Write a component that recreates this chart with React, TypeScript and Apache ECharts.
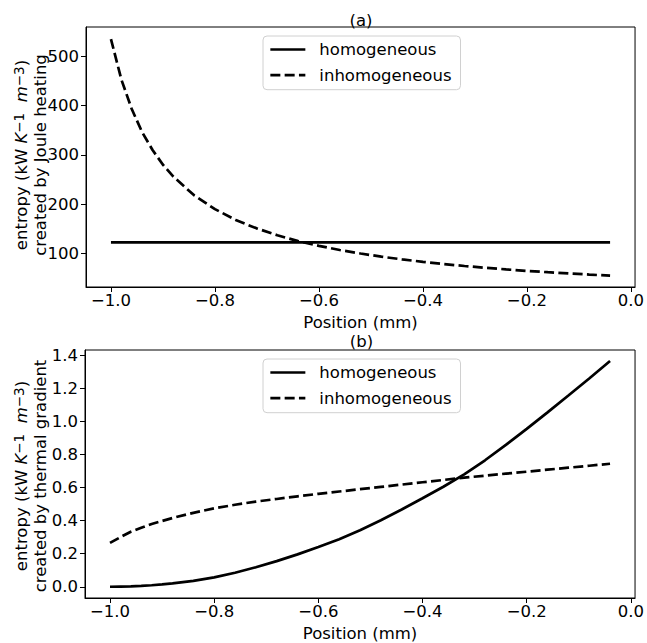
import React, { useEffect, useRef } from "react";
import * as echarts from "echarts";

const positions = [-1.0, -0.98, -0.96, -0.94, -0.92, -0.9, -0.88, -0.84, -0.8, -0.76, -0.72, -0.68, -0.64, -0.6, -0.56, -0.52, -0.48, -0.44, -0.4, -0.36, -0.32, -0.28, -0.24, -0.2, -0.16, -0.12, -0.08, -0.04];

const jouleHomogeneous = [122.5, 122.5, 122.5, 122.5, 122.5, 122.5, 122.5, 122.5, 122.5, 122.5, 122.5, 122.5, 122.5, 122.5, 122.5, 122.5, 122.5, 122.5, 122.5, 122.5, 122.5, 122.5, 122.5, 122.5, 122.5, 122.5, 122.5, 122.5];
const jouleInhomogeneous = [535, 453, 393, 346, 310, 280, 256, 218, 190, 168, 151, 137, 125, 115.5, 107, 100, 93.5, 88, 83, 78.5, 74.6, 71, 67.7, 64.7, 62, 59.5, 57.2, 55];

const thermalHomogeneous = [0, 0.001, 0.002, 0.005, 0.009, 0.014, 0.02, 0.036, 0.057, 0.085, 0.118, 0.155, 0.196, 0.24, 0.288, 0.342, 0.402, 0.467, 0.535, 0.605, 0.68, 0.765, 0.858, 0.955, 1.055, 1.157, 1.26, 1.365];
const thermalInhomogeneous = [0.265, 0.3, 0.333, 0.357, 0.38, 0.398, 0.416, 0.447, 0.474, 0.496, 0.515, 0.531, 0.547, 0.562, 0.576, 0.59, 0.604, 0.618, 0.632, 0.646, 0.66, 0.672, 0.684, 0.696, 0.708, 0.72, 0.732, 0.744];

const xTicks = [-1.0, -0.8, -0.6, -0.4, -0.2, 0.0];
const jouleTicks = [100, 200, 300, 400, 500];
const thermalTicks = [0.0, 0.2, 0.4, 0.6, 0.8, 1.0, 1.2, 1.4];

const seriesNames = ["homogeneous", "inhomogeneous"];
const panelTitles = ["(a)", "(b)"];
const yNameSecondLines = ["created by Joule heating", "created by thermal gradient"];
const xName = "Position (mm)";

const FONT = "DejaVu Sans";
const FS = 16.5;

function fmt(v: number, d: number): string {
  const s = Math.abs(v).toFixed(d);
  return v < -1e-9 ? "\u2212" + s : s;
}

function pairs(xs: number[], ys: number[]) {
  return xs.map((x, i) => [x, ys[i]]);
}

const rich = {
  n: { fontSize: FS, fontFamily: FONT, fill: "#000", lineHeight: 19 },
  i: { fontSize: FS, fontFamily: FONT, fontStyle: "italic", fill: "#000", lineHeight: 19 },
  s: { fontSize: 13.5, fontFamily: FONT, fill: "#000", verticalAlign: "top", lineHeight: 19 },
};

function yName(second: string) {
  return "{n|entropy (kW }{i|K}{s|\u22121}{n|  }{i|m}{s|\u22123}{n|)}\n{n|" + second + "}";
}

export default function App() {
  const ref = useRef<HTMLDivElement>(null);
  useEffect(() => {
    if (!ref.current) return;
    const chart = echarts.init(ref.current, null, { renderer: "svg" });
    const grids = [
      { left: 86, top: 27, width: 550, height: 260 },
      { left: 85, top: 350, width: 553, height: 255 },
    ];
    const axisText = { fontSize: FS, fontFamily: FONT, color: "#000" };
    const xAxes = grids.map((_, i) => ({
      type: "value",
      gridIndex: i,
      min: -1.048,
      max: 0.008,
      axisLine: { show: true, onZero: false, lineStyle: { color: "#000", width: 1 } },
      axisTick: { show: true, length: 5, lineStyle: { color: "#000", width: 1 }, customValues: xTicks },
      axisLabel: { ...axisText, margin: 5, customValues: xTicks, formatter: (v: number) => fmt(v, 1) },
      splitLine: { show: false },
      name: xName,
      nameLocation: "middle",
      nameGap: 27,
      nameTextStyle: { ...axisText },
    }));
    const yAxes = [
      {
        type: "value",
        gridIndex: 0,
        min: 32,
        max: 559.5,
        axisLine: { show: true, onZero: false, lineStyle: { color: "#000", width: 1 } },
        axisTick: { show: true, length: 5, lineStyle: { color: "#000", width: 1 }, customValues: jouleTicks },
        axisLabel: { ...axisText, margin: 7, customValues: jouleTicks, formatter: (v: number) => String(Math.round(v)) },
        splitLine: { show: false },
      },
      {
        type: "value",
        gridIndex: 1,
        min: -0.068,
        max: 1.432,
        axisLine: { show: true, onZero: false, lineStyle: { color: "#000", width: 1 } },
        axisTick: { show: true, length: 5, lineStyle: { color: "#000", width: 1 }, customValues: thermalTicks },
        axisLabel: { ...axisText, margin: 7, customValues: thermalTicks, formatter: (v: number) => fmt(v, 1) },
        splitLine: { show: false },
      },
    ];
    const mkLine = (name: string, data: number[][], gi: number, dashed: boolean) => ({
      type: "line",
      name,
      xAxisIndex: gi,
      yAxisIndex: gi,
      data,
      symbol: "none",
      showSymbol: false,
      lineStyle: { color: "#000", width: 2.7, type: dashed ? [10, 4.3] : "solid" },
      itemStyle: { color: "#000" },
    });
    const legendTops = [36, 359];
    const legends = legendTops.map((top) => ({
      data: seriesNames,
      orient: "vertical",
      left: 263,
      top,
      itemWidth: 35,
      itemHeight: 12,
      itemGap: 6.7,
      padding: [4, 9, 5, 6],
      backgroundColor: "#fff",
      borderColor: "#d0d0d0",
      borderWidth: 1,
      borderRadius: 4,
      itemStyle: { opacity: 0 },
      lineStyle: { width: 2.7, color: "#000" },
      textStyle: { fontSize: FS, fontFamily: FONT, color: "#000", lineHeight: 19, padding: [0, 0, 0, 9] },
      selectedMode: false,
    }));
    const titleY = [20, 341];
    const titleX = [361, 361.5];
    const nameY = [155, 476];
    const graphics: any[] = [];
    for (let i = 0; i < 2; i++) {
      graphics.push({
        type: "text",
        x: titleX[i],
        y: titleY[i],
        style: { text: panelTitles[i], fontSize: FS, fontFamily: FONT, fill: "#000", align: "center", verticalAlign: "middle" },
      });
      graphics.push({
        type: "text",
        x: 31,
        y: nameY[i],
        rotation: Math.PI / 2,
        style: { text: yName(yNameSecondLines[i]), rich, fontSize: FS, fontFamily: FONT, fill: "#000", align: "center", verticalAlign: "middle" },
      });
    }
    chart.setOption({
      animation: false,
      backgroundColor: "#fff",
      grid: grids.map((g) => ({ ...g, show: true, borderColor: "#000", borderWidth: 1, backgroundColor: "transparent" })),
      xAxis: xAxes,
      yAxis: yAxes,
      legend: legends,
      graphic: graphics,
      series: [
        mkLine(seriesNames[0], pairs(positions, jouleHomogeneous), 0, false),
        mkLine(seriesNames[1], pairs(positions, jouleInhomogeneous), 0, true),
        mkLine(seriesNames[0], pairs(positions, thermalHomogeneous), 1, false),
        mkLine(seriesNames[1], pairs(positions, thermalInhomogeneous), 1, true),
      ],
    } as any);
    return () => chart.dispose();
  }, []);
  return <div ref={ref} style={{ position: "absolute", left: 0, top: 0, width: 647, height: 643 }} />;
}
